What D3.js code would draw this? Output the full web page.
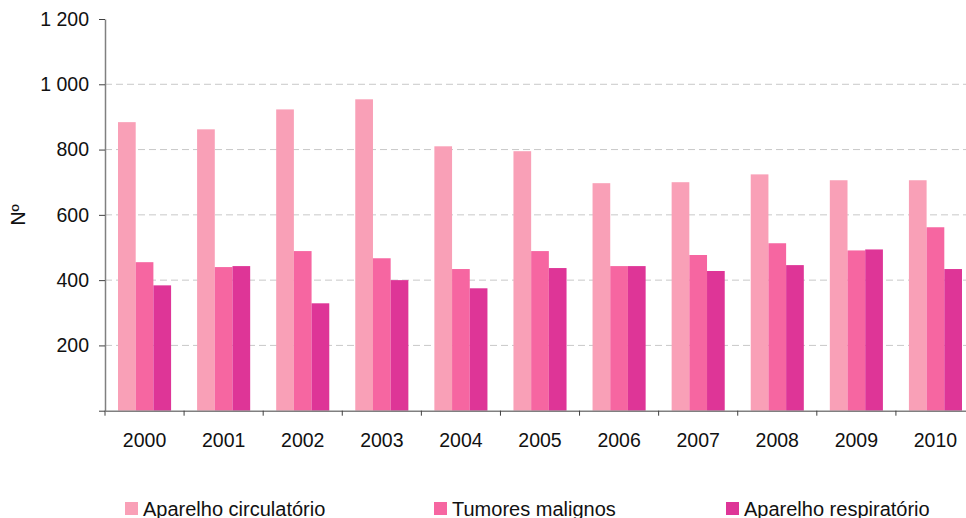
<!DOCTYPE html>
<html>
<head>
<meta charset="utf-8">
<script src="https://cdn.jsdelivr.net/npm/d3@7"></script>
<style>
    body { margin: 0; background: #fff; }
    svg { display: block; font-family: "Liberation Sans", Arial, sans-serif; }
</style>
</head>
<body>
<div id="vis"></div>
<script>
// data
var years = ["2000", "2001", "2002", "2003", "2004", "2005", "2006", "2007", "2008", "2009", "2010"];
var seriesNames = ["Aparelho circulatório", "Tumores malignos", "Aparelho respiratório"];
var circulatorio = [884, 862, 923, 954, 810, 795, 697, 700, 724, 706, 706];
var tumores = [455, 440, 489, 467, 434, 489, 443, 477, 513, 491, 562];
var respiratorio = [384, 443, 329, 400, 375, 437, 443, 428, 446, 494, 434];
var yTicks = [0, 200, 400, 600, 800, 1000, 1200];
var yTickLabels = ["", "200", "400", "600", "800", "1 000", "1 200"];
var colors = ["#f9a0b7", "#f666a1", "#de3597"];

var width = 966, height = 518;
var margin = { top: 19, left: 105, bottom: 410.7 };

var svg = d3.select("#vis").append("svg").attr("width", width).attr("height", height);

//scales
var x0 = d3.scaleBand().domain(years).range([margin.left, 975]);
var x1 = d3.scaleBand().domain(seriesNames).range([13, x0.bandwidth() - 13]);
var y = d3.scaleLinear().domain([0, 1200]).range([margin.bottom, margin.top]);

//dashed grid
svg.append("g").selectAll("line")
    .data(yTicks.filter(function (d) { return d > 0 && d < 1200; }))
    .enter().append("line")
    .attr("x1", margin.left).attr("x2", width)
    .attr("y1", function (d) { return y(d); })
    .attr("y2", function (d) { return y(d); })
    .attr("stroke", "#c8c8c8")
    .attr("stroke-width", 1)
    .attr("stroke-dasharray", "7,4");

//bars
var rows = years.map(function (yr, i) {
    return { year: yr, values: [circulatorio[i], tumores[i], respiratorio[i]] };
});

var groups = svg.append("g").selectAll("g")
    .data(rows)
    .enter().append("g")
    .attr("transform", function (d) { return "translate(" + x0(d.year) + ",0)"; });

groups.selectAll("rect")
    .data(function (d) { return d.values.map(function (v, j) { return { name: seriesNames[j], value: v, c: colors[j] }; }); })
    .enter().append("rect")
    .attr("x", function (d) { return x1(d.name); })
    .attr("width", x1.bandwidth())
    .attr("y", function (d) { return y(d.value); })
    .attr("height", function (d) { return y(0) - y(d.value); })
    .attr("fill", function (d) { return d.c; });

//y axis
var yAxis = d3.axisLeft(y).tickValues(yTicks)
    .tickFormat(function (d, i) { return yTickLabels[i]; })
    .tickSize(6).tickPadding(10).tickSizeOuter(0);

var gy = svg.append("g").attr("transform", "translate(" + margin.left + ",0)").call(yAxis);
gy.select(".domain").attr("stroke", "#808080").attr("stroke-width", 1.5);
gy.selectAll(".tick line").attr("stroke", "#404040");
gy.selectAll("text").attr("font-size", 19.5).attr("fill", "#111")
    .attr("font-family", "Liberation Sans, Arial, sans-serif");

//x axis
var xAxis = d3.axisBottom(x0).tickSize(0).tickPadding(22).tickSizeOuter(0);
var gx = svg.append("g").attr("transform", "translate(0," + margin.bottom + ")").call(xAxis);
gx.select(".domain").attr("stroke", "#808080").attr("stroke-width", 1.5);
gx.selectAll("text").attr("font-size", 19.5).attr("fill", "#111")
    .attr("font-family", "Liberation Sans, Arial, sans-serif");

//category separator ticks
svg.append("g").selectAll("line")
    .data(years)
    .enter().append("line")
    .attr("x1", function (d) { return x0(d); })
    .attr("x2", function (d) { return x0(d); })
    .attr("y1", margin.bottom)
    .attr("y2", margin.bottom + 5)
    .attr("stroke", "#404040");

//y title
svg.append("text")
    .attr("transform", "translate(25,215) rotate(-90)")
    .attr("text-anchor", "middle")
    .attr("font-size", 19.5)
    .attr("fill", "#111")
    .text("Nº");

//legend
var legendX = [125, 434, 726];
var legend = svg.append("g").selectAll("g")
    .data(seriesNames)
    .enter().append("g")
    .attr("transform", function (d, i) { return "translate(" + legendX[i] + ",502)"; });

legend.append("rect").attr("width", 13).attr("height", 13)
    .attr("fill", function (d, i) { return colors[i]; });
legend.append("text").attr("x", 18).attr("y", 13.5)
    .attr("font-size", 20).attr("fill", "#111")
    .text(function (d) { return d; });
</script>
</body>
</html>
